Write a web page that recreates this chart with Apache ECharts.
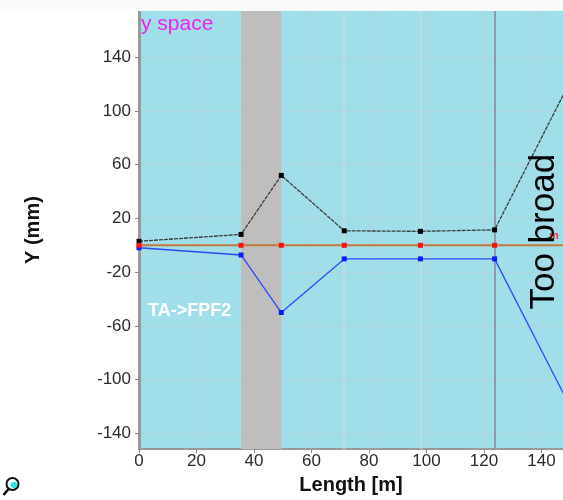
<!DOCTYPE html>
<html>
<head>
<meta charset="utf-8">
<script src="https://cdn.jsdelivr.net/npm/echarts@6/dist/echarts.min.js"></script>
<style>
html,body{margin:0;padding:0;background:#fff;}
#c{width:563px;height:500px;}
</style>
</head>
<body>
<div id="c"></div>
<script>
// Element positions along the beamline [m]
const positions = [0, 35.5, 49.5, 71.4, 97.9, 123.7, 150];
// Upper envelope (black), centre (red), lower envelope (blue) [mm]
const upperY = [3.0, 8.1, 52, 10.8, 10.4, 11.5, 122];
const centreY = [0, 0, 0, 0, 0, 0, 0];
const lowerY = [-1.8, -7.2, -50, -10.1, -10.1, -10.1, -120];
const xTicks = [0, 20, 40, 60, 80, 100, 120, 140];
const yTicks = [-140, -100, -60, -20, 20, 60, 100, 140];
// Element region and markers
const bandRange = [35.5, 49.5];
const lightMarkers = [71.4, 97.9];
const darkMarkers = [123.7];

const FONT = "'Liberation Sans', Arial, sans-serif";
const pairs = (ys) => positions.map((x, i) => [x, ys[i]]);

const chart = echarts.init(document.getElementById('c'), null, {renderer: 'canvas'});
chart.setOption({
  animation: false,
  backgroundColor: '#ffffff',
  grid: {left: 139, top: 11, right: 0, bottom: 49, show: true, backgroundColor: '#a0dee9', borderWidth: 0},
  xAxis: {
    type: 'value', min: 0, max: 147.5,
    name: 'Length [m]', nameLocation: 'middle', nameGap: 25,
    nameTextStyle: {fontFamily: FONT, fontSize: 20, fontWeight: 'bold', color: '#111'},
    axisLine: {show: true, onZero: false, lineStyle: {color: '#9a9a9a', width: 2}},
    axisTick: {show: true, length: 4, lineStyle: {color: '#888'}, customValues: xTicks},
    axisLabel: {fontFamily: FONT, fontSize: 17, color: '#2a2a2a', margin: 4, customValues: xTicks},
    splitLine: {show: true, lineStyle: {color: '#b0d2d9', width: 1}}
  },
  yAxis: {
    type: 'value', min: -151.6, max: 174.3,
    name: 'Y (mm)', nameLocation: 'middle', nameGap: 96, nameRotate: 90,
    nameTextStyle: {fontFamily: FONT, fontSize: 20, fontWeight: 'bold', color: '#111'},
    axisLine: {show: true, onZero: false, lineStyle: {color: '#9a9a9a', width: 3}},
    axisTick: {show: true, length: 4, lineStyle: {color: '#888'}, customValues: yTicks},
    axisLabel: {fontFamily: FONT, fontSize: 17, color: '#2a2a2a', margin: 8, customValues: yTicks},
    splitLine: {show: true, lineStyle: {color: '#b0d2d9', width: 1}}
  },
  series: [
    {
      type: 'line', name: 'upper', data: pairs(upperY), z: 5,
      symbol: 'rect', symbolSize: 5, itemStyle: {color: '#000'},
      lineStyle: {color: '#3c3c3c', width: 1.3, type: [4, 1]},
      markArea: {silent: true, itemStyle: {color: '#bebebe', opacity: 1}, data: [[{xAxis: bandRange[0]}, {xAxis: bandRange[1]}]]},
      markLine: {
        silent: true, symbol: 'none', label: {show: false}, animation: false,
        data: lightMarkers.map(v => ({xAxis: v, lineStyle: {color: '#c2dbe0', width: 1.5, type: 'solid'}}))
          .concat(darkMarkers.map(v => ({xAxis: v, lineStyle: {color: '#889fa5', width: 2, type: 'solid'}})))
      }
    },
    {
      type: 'line', name: 'centre', data: pairs(centreY), z: 6,
      symbol: 'rect', symbolSize: 5, itemStyle: {color: '#ff1010'},
      lineStyle: {color: '#c47a3a', width: 2}
    },
    {
      type: 'line', name: 'lower', data: pairs(lowerY), z: 5,
      symbol: 'rect', symbolSize: 5, itemStyle: {color: '#0a1cff'},
      lineStyle: {color: '#2a48ff', width: 1.3}
    }
  ],
  graphic: [
    {type: 'rect', shape: {x: 0, y: 0, width: 563, height: 11}, style: {fill: '#f7f9fb'}, z: 100},
    {type: 'text', left: 141, top: 14, z: 100, style: {text: 'y space', fill: '#ee22ee', font: '21px ' + FONT}},
    {type: 'text', left: 148, top: 302, z: 100, style: {text: 'TA->FPF2', fill: '#ffffff', font: 'bold 18px ' + FONT}},
    {type: 'text', x: 549, y: 241, z: 99, style: {text: 'm', fill: '#e03535', font: 'bold 11px ' + FONT, textVerticalAlign: 'bottom'}},
    {type: 'text', x: 544, y: 231.7, rotation: Math.PI / 2, z: 100,
     style: {text: 'Too broad', fill: '#000', font: '35px ' + FONT, textAlign: 'center', textVerticalAlign: 'middle'}},
    {type: 'group', left: 1, top: 477, z: 100, children: [
      {type: 'line', shape: {x1: 1, y1: 20, x2: 6, y2: 14}, style: {stroke: '#000', lineWidth: 2.5}},
      {type: 'circle', shape: {cx: 10, cy: 9, r: 6}, style: {fill: '#e8ffff', stroke: '#111', lineWidth: 2}},
      {type: 'circle', shape: {cx: 11.5, cy: 10, r: 3}, style: {fill: '#22e0e8'}}
    ]}
  ]
});
</script>
</body>
</html>
